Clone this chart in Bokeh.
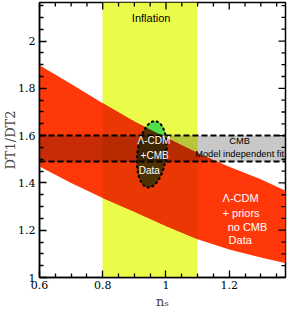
import numpy as np
from bokeh.plotting import figure
from bokeh.models import FixedTicker, Range1d
from bokeh.core.properties import value
from bokeh.embed import file_html
from bokeh.resources import INLINE

# ---------------- data ----------------
band_ns = [0.60, 0.70, 0.80, 0.90, 1.00, 1.10, 1.20, 1.30, 1.38]
band_upper = [1.898, 1.818, 1.737, 1.660, 1.592, 1.527, 1.468, 1.415, 1.366]
band_lower = [1.469, 1.400, 1.336, 1.278, 1.218, 1.162, 1.118, 1.085, 1.060]
inflation_ns = [0.8, 1.1]
cmb_fit = [1.49, 1.60]
ellipse_center = [0.955, 1.521]
ellipse_semi = [0.046, 0.140]
ellipse_shear = 0.010
x_ticks = [0.6, 0.8, 1.0, 1.2]
x_tick_labels = ["0.6", "0.8", "1", "1.2"]
y_ticks = [1.0, 1.2, 1.4, 1.6, 1.8, 2.0]
y_tick_labels = ["1", "1.2", "1.4", "1.6", "1.8", "2"]
x_minor = [0.65, 0.7, 0.75, 0.85, 0.9, 0.95, 1.05, 1.1, 1.15, 1.25, 1.3, 1.35]
y_minor = [1.05, 1.1, 1.15, 1.25, 1.3, 1.35, 1.45, 1.5, 1.55, 1.65, 1.7, 1.75,
           1.85, 1.9, 1.95, 2.05, 2.1, 2.15]

YELLOW = "#ebfb4a"
RED = "#ff380a"
ELL = "#57e3ff"


def mult(*cols):
    r = np.ones(3)
    for h in cols:
        r *= np.array([int(h[i:i + 2], 16) for i in (1, 3, 5)]) / 255.0
    return "#%02x%02x%02x" % tuple(int(round(v * 255)) for v in r)


XR = Range1d(0.6, 1.378)
YR = Range1d(1.0, 2.163)
p = figure(width=287, height=312, x_range=XR, y_range=YR,
           output_backend="svg", toolbar_location=None, title=None,
           min_border_left=36, min_border_right=2, min_border_top=2, min_border_bottom=35)
p.outline_line_color = "black"
p.outline_line_width = 1.5
p.grid.visible = False
p.background_fill_color = "white"
p.border_fill_color = "white"

# inflation strip
p.vstrip(x0=[inflation_ns[0]], x1=[inflation_ns[1]], fill_color=YELLOW, line_color=None)

# LCDM + priors band
bx = np.array(band_ns)
bu = np.array(band_upper)
bl = np.array(band_lower)
p.patch(list(bx) + list(bx[::-1]), list(bu) + list(bl[::-1]), fill_color=RED, line_color=None)
m = (bx >= inflation_ns[0]) & (bx <= inflation_ns[1])
p.patch(list(bx[m]) + list(bx[m][::-1]), list(bu[m]) + list(bl[m][::-1]),
        fill_color=mult(RED, YELLOW), line_color=None)

# LCDM + CMB ellipse
t = np.linspace(0, 2 * np.pi, 241)
ex = ellipse_center[0] + ellipse_semi[0] * np.cos(t) + ellipse_shear * np.sin(t)
ey = ellipse_center[1] + ellipse_semi[1] * np.sin(t)
p.patch(ex, ey, fill_color=mult(ELL, RED, YELLOW), line_color=None)
cap_y = np.maximum(ey, np.interp(ex, bx, bu))
p.patch(ex, cap_y, fill_color=mult(ELL, YELLOW), line_color=None)

# CMB model-independent fit strip
p.hstrip(y0=[cmb_fit[0]], y1=[cmb_fit[1]], fill_color="black", fill_alpha=0.216, line_color=None)
p.hspan(y=cmb_fit, line_color="black", line_width=2, line_dash="6 3")

p.line(ex, ey, line_color="black", line_width=2.2, line_dash="1 4", line_cap="round")

# texts
FONT = value("Liberation Sans")
p.text(x=[0.953], y=[2.098], text=["Inflation"], text_font=FONT, text_font_size="11px",
       text_align="center", text_baseline="middle", text_color="black")
p.text(x=[0.962, 0.964, 0.947], y=[1.578, 1.514, 1.451], text=["Λ-CDM", "+CMB", "Data"],
       text_font=FONT, text_font_size="10px", text_align="center", text_baseline="middle",
       text_color="white")
p.text(x=[1.233, 1.233], y=[1.578, 1.521], text=["CMB", "Model independent fit"],
       text_font=FONT, text_font_size="9.3px", text_align="center", text_baseline="middle",
       text_color="black")
p.text(x=[1.179, 1.179, 1.195, 1.198], y=[1.338, 1.274, 1.214, 1.158],
       text=["Λ-CDM", "+ priors", "no CMB", "Data"],
       text_font=FONT, text_font_size="11px", text_align="left", text_baseline="middle",
       text_color="white")

# mirrored inward ticks on top and right edges (markers half-clipped by the frame)
p.scatter(x_ticks, [YR.end] * len(x_ticks), marker="dash", size=14, angle=np.pi / 2,
          line_color="black", line_width=1.3)
p.scatter(x_minor, [YR.end] * len(x_minor), marker="dash", size=8, angle=np.pi / 2,
          line_color="black", line_width=1.3)
p.scatter([XR.end] * len(y_ticks), y_ticks, marker="dash", size=14,
          line_color="black", line_width=1.3)
p.scatter([XR.end] * len(y_minor), y_minor, marker="dash", size=8,
          line_color="black", line_width=1.3)

# axes
SERIF = "DejaVu Serif"


def style_axis(ax, ticks, minor, labels):
    ax.ticker = FixedTicker(ticks=ticks, minor_ticks=minor)
    ax.major_tick_in = 7
    ax.major_tick_out = 0
    ax.minor_tick_in = 4
    ax.minor_tick_out = 0
    ax.major_tick_line_color = "black"
    ax.minor_tick_line_color = "black"
    ax.major_tick_line_width = 1.3
    ax.minor_tick_line_width = 1.3
    ax.axis_line_color = "black"
    ax.axis_line_width = 1.5
    ax.major_label_overrides = {tk: lb for tk, lb in zip(ticks, labels)}
    ax.major_label_text_font = SERIF
    ax.major_label_text_font_size = "11px"
    ax.major_label_text_color = "black"


xa = p.xaxis[0]
style_axis(xa, x_ticks, x_minor, x_tick_labels)
xa.major_label_standoff = 3
xa.axis_label = "nₛ"
xa.axis_label_text_font = SERIF
xa.axis_label_text_font_size = "13px"
xa.axis_label_text_font_style = "normal"
xa.axis_label_standoff = 2

ya = p.yaxis[0]
style_axis(ya, y_ticks, y_minor, y_tick_labels)
ya.major_label_standoff = 4
ya.axis_label = "DT1/DT2"
ya.axis_label_text_font = SERIF
ya.axis_label_text_font_size = "13px"
ya.axis_label_text_font_style = "normal"
ya.axis_label_standoff = -3

open("out.html", "w").write(file_html(p, INLINE))
